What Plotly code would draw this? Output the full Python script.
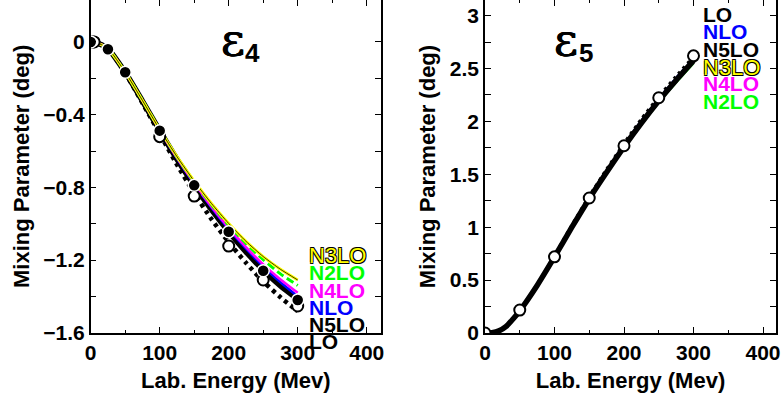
import plotly.graph_objects as go

W, H = 784, 403

# ---------------- data: epsilon_4 (left panel) ----------------
e4_E = [0, 10, 25, 50, 75, 100, 125, 150, 175, 200, 225, 250, 275, 300]
e4_N5LO = [0, -0.006, -0.037, -0.167, -0.325, -0.488, -0.645, -0.789, -0.922, -1.044, -1.155, -1.255, -1.342, -1.415]
e4_LO = [0, -0.006, -0.037, -0.170, -0.336, -0.505, -0.675, -0.832, -0.975, -1.102, -1.215, -1.318, -1.405, -1.482]
e4_NLO = [0, -0.006, -0.036, -0.166, -0.323, -0.486, -0.640, -0.782, -0.912, -1.030, -1.138, -1.236, -1.322, -1.400]
e4_N4LO = [0, -0.006, -0.036, -0.166, -0.323, -0.485, -0.638, -0.778, -0.907, -1.023, -1.129, -1.224, -1.307, -1.380]
e4_N2LO = [0, -0.006, -0.036, -0.166, -0.322, -0.483, -0.633, -0.770, -0.895, -1.008, -1.109, -1.198, -1.276, -1.340]
e4_N3LO = [0, -0.006, -0.036, -0.166, -0.322, -0.482, -0.631, -0.766, -0.889, -0.999, -1.097, -1.181, -1.251, -1.310]

e4_filled_E = [0, 25, 50, 100, 150, 200, 250, 300]
e4_filled = [0, -0.04, -0.167, -0.488, -0.789, -1.044, -1.259, -1.42]
e4_open_E = [1, 3, 5, 100, 150, 200, 250, 300]
e4_open = [0, 0, 0, -0.521, -0.848, -1.123, -1.31, -1.453]

# ---------------- data: epsilon_5 (right panel) ----------------
e5_E = [0, 10, 20, 30, 40, 50, 75, 100, 125, 150, 175, 200, 225, 250, 275, 300]
e5_N5LO = [0, 0.003, 0.02, 0.06, 0.13, 0.21, 0.45, 0.72, 1.0, 1.27, 1.52, 1.76, 1.985, 2.195, 2.39, 2.575]
e5_LO = [0, 0.003, 0.02, 0.06, 0.13, 0.21, 0.455, 0.73, 1.015, 1.29, 1.545, 1.79, 2.02, 2.23, 2.425, 2.61]
e5_NLO = [0, 0.003, 0.02, 0.06, 0.13, 0.21, 0.452, 0.725, 1.008, 1.28, 1.535, 1.78, 2.005, 2.215, 2.41, 2.595]
e5_N3LO = [0, 0.003, 0.02, 0.06, 0.13, 0.21, 0.45, 0.72, 1.0, 1.27, 1.52, 1.76, 1.98, 2.19, 2.38, 2.565]
e5_N4LO = [0, 0.003, 0.02, 0.06, 0.13, 0.21, 0.45, 0.72, 1.0, 1.268, 1.518, 1.757, 1.978, 2.186, 2.375, 2.56]
e5_N2LO = [0, 0.003, 0.02, 0.06, 0.13, 0.21, 0.449, 0.718, 0.997, 1.265, 1.514, 1.752, 1.972, 2.18, 2.368, 2.55]

e5_open_E = [0, 50, 100, 150, 200, 250, 300]
e5_open = [0, 0.217, 0.72, 1.276, 1.77, 2.224, 2.62]

x_ticks = [0, 100, 200, 300, 400]
e4_y_ticks = [0, -0.4, -0.8, -1.2, -1.6]
e4_y_labels = ["0", "\u22120.4", "\u22120.8", "\u22121.2", "\u22121.6"]
e5_y_ticks = [0, 0.5, 1, 1.5, 2, 2.5, 3]
e5_y_labels = ["0", "0.5", "1", "1.5", "2", "2.5", "3"]

left_labels = ["N3LO", "N2LO", "N4LO", "NLO", "N5LO", "LO"]
left_label_colors = ["#ffff00", "#00ff00", "#ff00ff", "#0000ff", "#000000", "#000000"]
right_labels = ["LO", "NLO", "N5LO", "N3LO", "N4LO", "N2LO"]
right_label_colors = ["#000000", "#0000ff", "#000000", "#ffff00", "#ff00ff", "#00ff00"]

# ---------------- figure ----------------
fig = go.Figure()

def line(x, y, xa, ya, color, width, dash="solid"):
    fig.add_trace(go.Scatter(x=x, y=y, xaxis=xa, yaxis=ya, mode="lines",
                             line=dict(color=color, width=width, dash=dash, shape="spline", smoothing=0.6),
                             showlegend=False, hoverinfo="skip"))

# left panel curves
line(e4_E, e4_LO, "x", "y", "black", 4.5, "4px,4px")
line(e4_E, e4_N5LO, "x", "y", "black", 5.5)
line(e4_E, e4_NLO, "x", "y", "#0000ff", 2.5)
line(e4_E, e4_N4LO, "x", "y", "#ff00ff", 2.5)
line(e4_E, e4_N2LO, "x", "y", "#00ff00", 3, "8px,4px")
line(e4_E, e4_N3LO, "x", "y", "#ffff00", 3)
line(e4_E, e4_N3LO, "x", "y", "black", 0.8)

fig.add_trace(go.Scatter(x=e4_open_E, y=e4_open, xaxis="x", yaxis="y", mode="markers",
                         marker=dict(symbol="circle", size=11, color="white", line=dict(color="black", width=2)),
                         showlegend=False, hoverinfo="skip"))
fig.add_trace(go.Scatter(x=e4_filled_E, y=e4_filled, xaxis="x", yaxis="y", mode="markers",
                         marker=dict(symbol="circle", size=12, color="black", line=dict(color="white", width=1.5)),
                         showlegend=False, hoverinfo="skip"))

# right panel curves
line(e5_E, e5_N2LO, "x2", "y2", "#00ff00", 2.5)
line(e5_E, e5_N4LO, "x2", "y2", "#ff00ff", 2.5)
line(e5_E, e5_N3LO, "x2", "y2", "#ffff00", 2.5)
line(e5_E, e5_NLO, "x2", "y2", "#0000ff", 2.5, "6px,3px")
line(e5_E, e5_LO, "x2", "y2", "black", 3.5, "3px,4px")
line(e5_E, e5_N5LO, "x2", "y2", "black", 5.5)

fig.add_trace(go.Scatter(x=e5_open_E, y=e5_open, xaxis="x2", yaxis="y2", mode="markers",
                         marker=dict(symbol="circle", size=11, color="white", line=dict(color="black", width=2)),
                         showlegend=False, hoverinfo="skip"))

tickfont = dict(family="Liberation Sans", size=21, color="black", weight="bold")
titlefont = dict(family="Liberation Sans", size=22, color="black", weight="bold")

def xaxis(domain, rng, anchor):
    return dict(domain=domain, range=rng, anchor=anchor, tickvals=x_ticks, ticktext=[str(v) for v in x_ticks],
                ticks="inside", ticklen=6, tickwidth=1.2, tickcolor="black",
                minor=dict(tickvals=[50, 150, 250, 350], ticks="inside", ticklen=3, tickwidth=1.2, tickcolor="black"),
                showline=True, linecolor="black", linewidth=1.5, mirror="allticks",
                showgrid=False, zeroline=False, tickfont=tickfont, automargin=False,
                title=dict(text="Lab. Energy (Mev)", font=titlefont, standoff=10))

def yaxis(domain, rng, anchor, tv, tt, minor_vals):
    return dict(domain=domain, range=rng, anchor=anchor, tickvals=tv, ticktext=tt,
                ticks="inside", ticklen=6, tickwidth=1.2, tickcolor="black",
                minor=dict(tickvals=minor_vals, ticks="inside", ticklen=6, tickwidth=1.2, tickcolor="black"),
                showline=True, linecolor="black", linewidth=1.5, mirror="allticks",
                showgrid=False, zeroline=False, tickfont=tickfont, automargin=False,
                title=dict(text="Mixing Parameter (deg)", font=titlefont, standoff=8))

fig.update_layout(
    width=W, height=H, margin=dict(l=0, r=0, t=0, b=0),
    paper_bgcolor="white", plot_bgcolor="white",
    xaxis=xaxis([90.7 / W, 381 / W], [0, 420.7], "y"),
    yaxis=yaxis([1 - 332.7 / H, 1.0], [-1.6, 0.231], "x", e4_y_ticks, e4_y_labels,
                [-0.2, -0.6, -1.0, -1.4]),
    xaxis2=xaxis([485 / W, 776 / W], [0, 418.7], "y2"),
    yaxis2=yaxis([1 - 333 / H, 1.0], [0, 3.148], "x2", e5_y_ticks, e5_y_labels,
                 [0.25, 0.75, 1.25, 1.75, 2.25, 2.75]),
)

outline = "0.8px 0.8px 0 #000, -0.8px -0.8px 0 #000, 0.8px -0.8px 0 #000, -0.8px 0.8px 0 #000"

def label(text, px, py, color, shadow=None, size=21):
    f = dict(family="Liberation Sans", size=size, color=color, weight="bold")
    if shadow:
        f["shadow"] = shadow
        f["weight"] = "normal"
        f["size"] = size + 1
    fig.add_annotation(text=text, x=px / W, y=1 - py / H, xref="paper", yref="paper",
                       xanchor="left", yanchor="middle", showarrow=False, font=f)

left_y = [255, 272, 290, 307, 324, 341]
for t, c, py in zip(left_labels, left_label_colors, left_y):
    label(t, 307, py, c, outline if c == "#ffff00" else None)

right_y = [14.5, 32, 49, 67, 84, 102]
for t, c, py in zip(right_labels, right_label_colors, right_y):
    label(t, 701, py, c, outline if c == "#ffff00" else None)

def eps(sub, px, py):
    fig.add_annotation(text="ε", x=px / W, y=1 - py / H, xref="paper", yref="paper",
                       xanchor="center", yanchor="middle", showarrow=False,
                       font=dict(family="DejaVu Serif", size=46, color="black",
                                 shadow="0.6px 0 0 #000, -0.6px 0 0 #000"))
    fig.add_annotation(text=sub, x=(px + 20) / W, y=1 - (py + 13) / H, xref="paper", yref="paper",
                       xanchor="center", yanchor="middle", showarrow=False,
                       font=dict(family="Liberation Sans", size=26, color="black", weight="bold"))

eps("4", 232.5, 40)
eps("5", 565.5, 40)

fig.write_html("out.html", config={"displayModeBar": False},
               post_script="document.body.style.margin='0';document.body.style.overflow='hidden';")
